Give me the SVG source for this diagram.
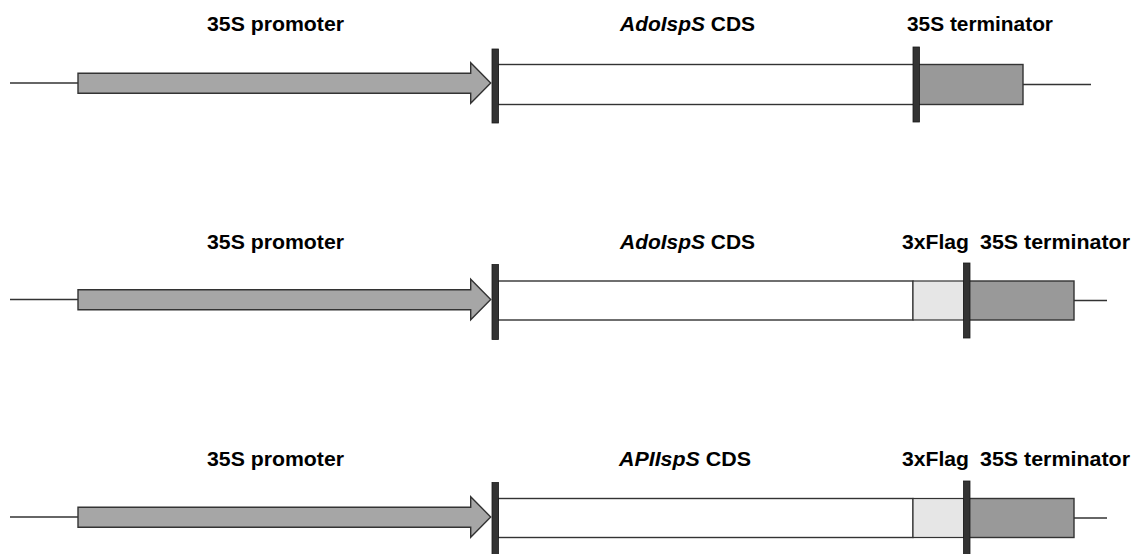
<svg xmlns="http://www.w3.org/2000/svg" width="1135" height="554" viewBox="0 0 1135 554">
  <style>
    .lbl { font-family: "Liberation Sans", Arial, sans-serif; font-weight: bold; font-size: 19.5px; fill: #000; }
    .it { font-style: italic; }
    .wire { stroke: #333; stroke-width: 1.4; fill: none; }
    .prom { fill: #a6a6a6; stroke: #333; stroke-width: 1.4; }
    .cds { fill: #fff; stroke: #333; stroke-width: 1.4; }
    .flag { fill: #e6e6e6; stroke: #333; stroke-width: 1.2; }
    .term { fill: #999; stroke: #333; stroke-width: 1.4; }
    .bar { fill: #333; stroke: #1a1a1a; stroke-width: 0.8; }
  </style>
  <defs>
    <!-- 35S promoter: leading wire plus block arrow -->
    <g id="promoter">
      <line class="wire" x1="10" y1="83" x2="78" y2="83"/>
      <polygon class="prom" points="78,73.3 470.7,73.3 470.7,62.7 490.7,83 470.7,103.3 470.7,93.3 78,93.3"/>
    </g>
  </defs>

  <!-- Construct 1: 35S::AdoIspS -->
  <g id="construct1">
    <g id="c1-promoter"><use href="#promoter"/></g>
    <g id="c1-cds"><rect class="cds" x="498" y="64.5" width="416" height="40"/></g>
    <g id="c1-terminator">
      <rect class="term" x="918" y="64.5" width="105" height="40"/>
      <line class="wire" x1="1023" y1="84.5" x2="1091" y2="84.5"/>
    </g>
    <g id="c1-junctions">
      <rect class="bar" x="492" y="49" width="6.5" height="74"/>
      <rect class="bar" x="913" y="47" width="6.5" height="75"/>
    </g>
    <g id="c1-labels">
      <text class="lbl" x="207" y="31" textLength="137" lengthAdjust="spacingAndGlyphs">35S promoter</text>
      <text class="lbl" x="620" y="31" textLength="135" lengthAdjust="spacingAndGlyphs"><tspan class="it">AdoIspS</tspan> CDS</text>
      <text class="lbl" x="907" y="31" textLength="146" lengthAdjust="spacingAndGlyphs">35S terminator</text>
    </g>
  </g>

  <!-- Construct 2: 35S::AdoIspS-3xFlag -->
  <g id="construct2" transform="translate(0,216.5)">
    <g id="c2-promoter"><use href="#promoter"/></g>
    <g id="c2-cds"><rect class="cds" x="498" y="64.5" width="415" height="39"/></g>
    <g id="c2-flag"><rect class="flag" x="913" y="64.5" width="51" height="39"/></g>
    <g id="c2-terminator">
      <rect class="term" x="969" y="64.5" width="105" height="39"/>
      <line class="wire" x1="1074" y1="84" x2="1107" y2="84"/>
    </g>
    <g id="c2-junctions">
      <rect class="bar" x="492" y="48" width="6.5" height="75"/>
      <rect class="bar" x="963.5" y="46.5" width="6.5" height="75"/>
    </g>
    <g id="c2-labels">
      <text class="lbl" x="207" y="32" textLength="137" lengthAdjust="spacingAndGlyphs">35S promoter</text>
      <text class="lbl" x="620" y="32" textLength="135" lengthAdjust="spacingAndGlyphs"><tspan class="it">AdoIspS</tspan> CDS</text>
      <text class="lbl" x="902" y="32" textLength="67" lengthAdjust="spacingAndGlyphs">3xFlag</text>
      <text class="lbl" x="980" y="32" textLength="150" lengthAdjust="spacingAndGlyphs">35S terminator</text>
    </g>
  </g>

  <!-- Construct 3: 35S::APIIspS-3xFlag -->
  <g id="construct3" transform="translate(0,434)">
    <g id="c3-promoter"><use href="#promoter"/></g>
    <g id="c3-cds"><rect class="cds" x="498" y="64.5" width="415" height="39"/></g>
    <g id="c3-flag"><rect class="flag" x="913" y="64.5" width="51" height="39"/></g>
    <g id="c3-terminator">
      <rect class="term" x="969" y="64.5" width="105" height="39"/>
      <line class="wire" x1="1074" y1="84" x2="1107" y2="84"/>
    </g>
    <g id="c3-junctions">
      <rect class="bar" x="492" y="48.5" width="6.5" height="80"/>
      <rect class="bar" x="963.5" y="47" width="6.5" height="80"/>
    </g>
    <g id="c3-labels">
      <text class="lbl" x="207" y="32" textLength="137" lengthAdjust="spacingAndGlyphs">35S promoter</text>
      <text class="lbl" x="619" y="32" textLength="132" lengthAdjust="spacingAndGlyphs"><tspan class="it">APIIspS</tspan> CDS</text>
      <text class="lbl" x="902" y="32" textLength="67" lengthAdjust="spacingAndGlyphs">3xFlag</text>
      <text class="lbl" x="980" y="32" textLength="150" lengthAdjust="spacingAndGlyphs">35S terminator</text>
    </g>
  </g>
</svg>
